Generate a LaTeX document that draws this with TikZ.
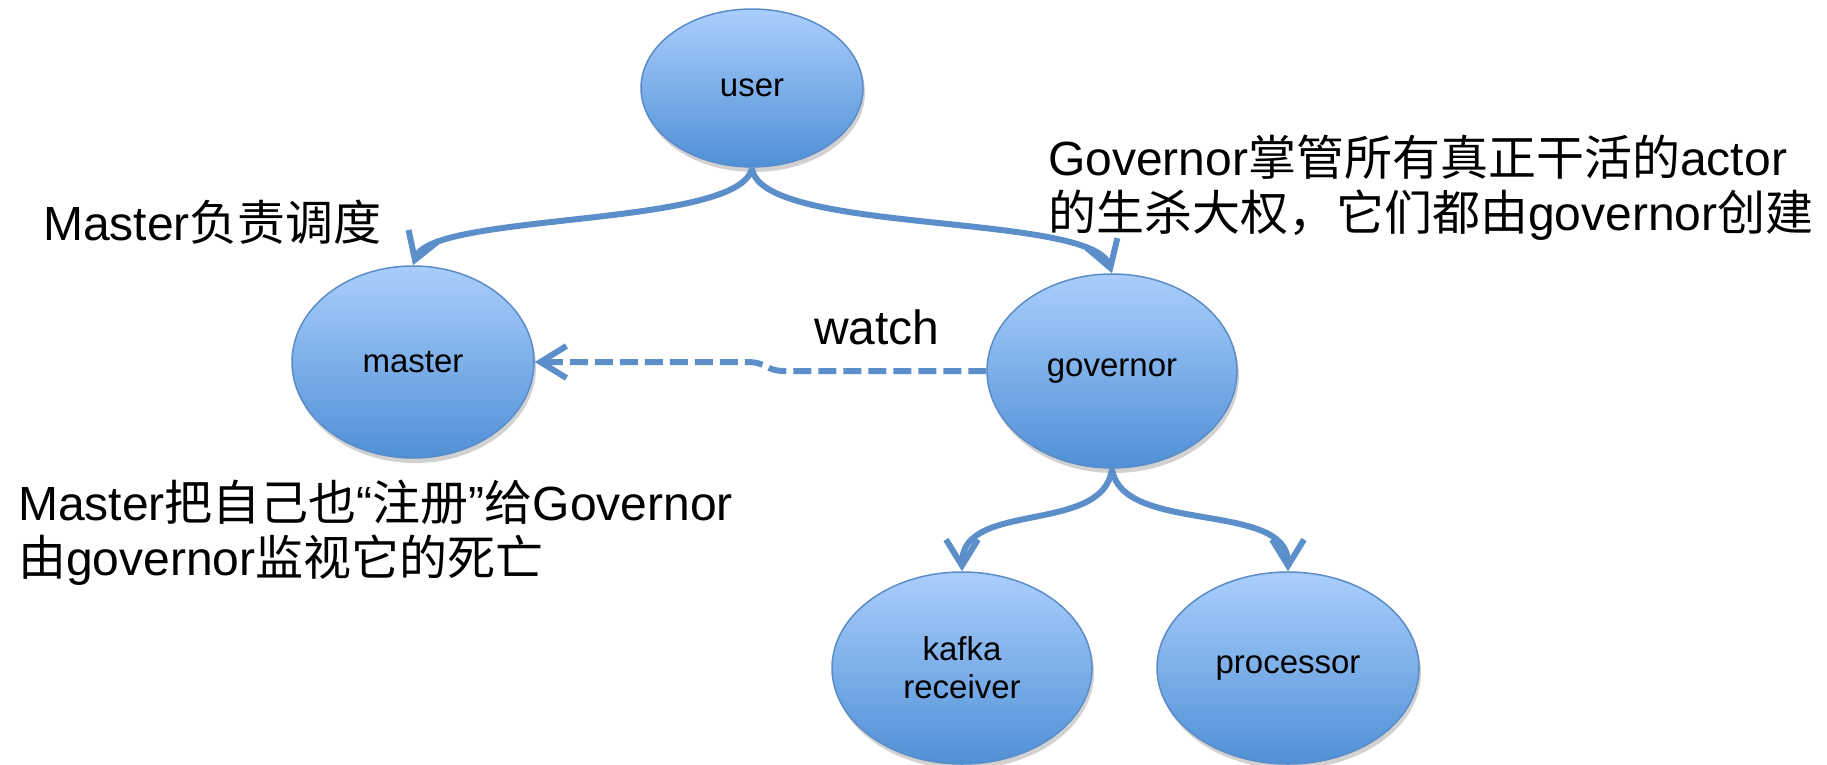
\documentclass[tikz,border=0pt]{standalone}
\usepackage{fontspec}
\setmainfont{Liberation Sans}
\newfontfamily\cjk{Noto Sans CJK SC}
\usetikzlibrary{shapes.geometric,arrows.meta,shadows}
\newcommand\zh[1]{{\cjk #1}}
\definecolor{ellTop}{RGB}{170,206,252}
\definecolor{ellBot}{RGB}{80,144,214}
\definecolor{ellBorder}{RGB}{90,140,200}
\definecolor{arrC}{RGB}{92,143,202}
\begin{document}
\begin{tikzpicture}[x=1pt,y=-1pt,
  ell/.style={ellipse, draw=ellBorder, line width=1.5pt, top color=ellTop, bottom color=ellBot,
    inner sep=0pt, align=center, font=\fontsize{33}{38}\selectfont,
    drop shadow={shadow xshift=2pt, shadow yshift=-5pt, opacity=0.18, fill=black}},
  lbl/.style={anchor=base west, inner sep=0pt, font=\fontsize{48}{55}\selectfont},
  conn/.style={draw=arrC, line width=6pt, -{Straight Barb[length=26pt,width=32pt]}},
]
\useasboundingbox (0,0) rectangle (1827,765);

\node[ell, minimum width=222pt, minimum height=158pt] (user) at (752,88) {user};
\node[ell, minimum width=242pt, minimum height=192pt] (master) at (413,362) {master};
\node[ell, minimum width=250pt, minimum height=194pt] (gov) at (1112,371) {governor};
\node[ell, minimum width=260pt, minimum height=192pt] (kafka) at (962,668) {kafka\\receiver};
\node[ell, minimum width=262pt, minimum height=192pt] (proc) at (1288,668) {processor};

\node[lbl] (t1) at (43,240) {Master\zh{负责调度}};
\node[lbl] (t2a) at (1048,175) {Governor\zh{掌管所有真正干活的}actor};
\node[lbl] (t2b) at (1048,230) {\zh{的生杀大权，它们都由}governor\zh{创建}};
\node[lbl] (t3) at (814,344) {watch};
\node[lbl] (t4a) at (18,520) {Master\zh{把自己也}“\zh{注册}”\zh{给}Governor};
\node[lbl] (t4b) at (18,575) {\zh{由}governor\zh{监视它的死亡}};

\draw[conn] (user.south) .. controls (758,235) and (1092,212) .. (gov.north);
\draw[conn] (user.south) .. controls (742,228) and (432,212) .. (master.north);
\draw[conn] (gov.south) .. controls (1104,535) and (962,500) .. (kafka.north);
\draw[conn] (gov.south) .. controls (1121,535) and (1288,500) .. (proc.north);
\draw[conn, dash pattern=on 18pt off 7pt] (gov.west) -- (785,371) .. controls (765,371) and (767,362) .. (747,362) -- (master.east);
\end{tikzpicture}
\end{document}
